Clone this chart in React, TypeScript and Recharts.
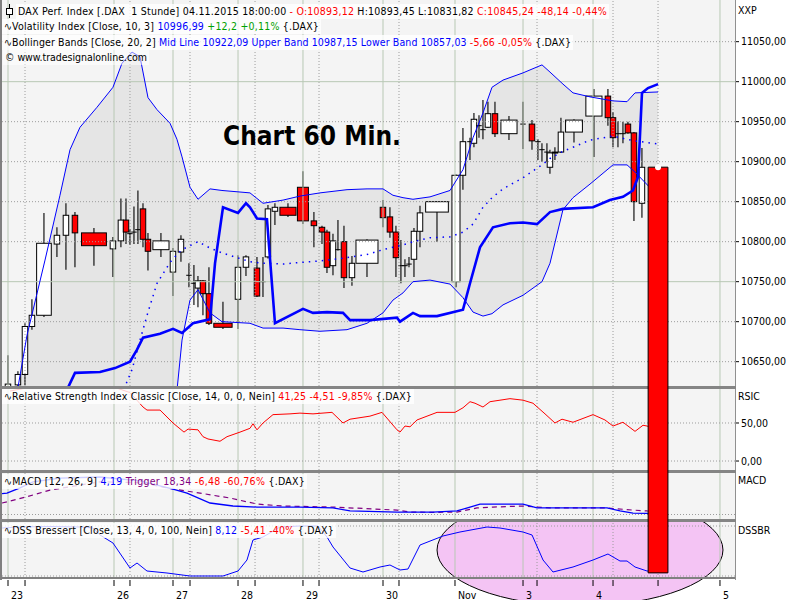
import React from 'react';
import { ComposedChart, Line, Area, Bar, XAxis, YAxis, ReferenceLine, ReferenceArea } from 'recharts';

const FONT = '"DejaVu Sans Condensed", "DejaVu Sans", sans-serif';

// time axis: 0..100 across the plot (hourly bars, gaps widen the candles)
const X_DOMAIN = [0, 100];
const DAY_TICKS = [0.82, 15.28, 23.33, 32.2, 41.06, 51.98, 61.8, 71.08, 80.63, 97.95];
const DAY_LABELS = ['23', '26', '27', '28', '29', '30', 'Nov', '3', '4', '5'];
const HOUR_TICKS = [3.14, 17.46, 25.65, 34.52, 43.25, 54.16, 72.99, 83.36, 89.5];

const PRICE_TICKS = [10650, 10700, 10750, 10800, 10850, 10900, 10950, 11000, 11050];
const PRICE_MAJOR = [10750, 11000];
const PRICE_DOMAIN = [10619.6, 11102.1];
const RSI_TICKS = [0, 50];
const RSI_DOMAIN = [-11.8, 94.7];
const MACD_DOMAIN = [-25.4, 234.5];
const DSS_DOMAIN = [-4, 108];

// hourly candles: t, open, high, low, close, optional span (for gaps)
const candles = [
  { t: 0.82, o: 10615, h: 10658, l: 10600, c: 10622 },
  { t: 2.18, o: 10621, h: 10638, l: 10600, c: 10634 },
  { t: 3.14, o: 10634, h: 10698, l: 10621, c: 10694 },
  { t: 4.09, o: 10694, h: 10728, l: 10690, c: 10708 },
  { t: 5.73, o: 10708, h: 10836, l: 10706, c: 10798, w: 2.0 },
  { t: 7.5, o: 10797, h: 10818, l: 10781, c: 10808 },
  { t: 8.73, o: 10808, h: 10848, l: 10765, c: 10833 },
  { t: 9.96, o: 10833, h: 10837, l: 10768, c: 10811 },
  { t: 12.55, o: 10811, h: 10817, l: 10770, c: 10795, w: 3.4 },
  { t: 15.14, o: 10791, h: 10806, l: 10756, c: 10801 },
  { t: 16.23, o: 10801, h: 10854, l: 10793, c: 10827 },
  { t: 16.92, o: 10827, h: 10854, l: 10797, c: 10812 },
  { t: 17.46, o: 10810, h: 10816, l: 10796, c: 10810 },
  { t: 18.01, o: 10812, h: 10844, l: 10797, c: 10812 },
  { t: 18.55, o: 10815, h: 10864, l: 10797, c: 10815 },
  { t: 19.24, o: 10841, h: 10848, l: 10793, c: 10803 },
  { t: 19.92, o: 10803, h: 10811, l: 10764, c: 10788 },
  { t: 21.69, o: 10790, h: 10811, l: 10781, c: 10801, w: 2.2 },
  { t: 23.33, o: 10762, h: 10792, l: 10732, c: 10788 },
  { t: 24.42, o: 10787, h: 10808, l: 10775, c: 10803 },
  { t: 25.51, o: 10758, h: 10773, l: 10743, c: 10758 },
  { t: 26.19, o: 10748, h: 10771, l: 10721, c: 10748 },
  { t: 26.74, o: 10742, h: 10757, l: 10718, c: 10751 },
  { t: 27.42, o: 10751, h: 10752, l: 10708, c: 10735 },
  { t: 28.24, o: 10735, h: 10768, l: 10696, c: 10698 },
  { t: 30.15, o: 10698, h: 10725, l: 10691, c: 10693, w: 2.5 },
  { t: 32.2, o: 10728, h: 10783, l: 10691, c: 10768 },
  { t: 33.29, o: 10768, h: 10783, l: 10757, c: 10781 },
  { t: 34.79, o: 10767, h: 10781, l: 10731, c: 10732 },
  { t: 35.61, o: 10750, h: 10781, l: 10731, c: 10750 },
  { t: 36.29, o: 10781, h: 10846, l: 10779, c: 10841 },
  { t: 37.24, o: 10838, h: 10848, l: 10821, c: 10843 },
  { t: 39.02, o: 10843, h: 10848, l: 10831, c: 10833, w: 2.2 },
  { t: 41.06, o: 10868, h: 10888, l: 10822, c: 10826, w: 1.5 },
  { t: 42.56, o: 10826, h: 10837, l: 10793, c: 10820 },
  { t: 43.66, o: 10818, h: 10820, l: 10797, c: 10812 },
  { t: 44.34, o: 10812, h: 10815, l: 10761, c: 10768 },
  { t: 45.16, o: 10770, h: 10810, l: 10758, c: 10801 },
  { t: 45.84, o: 10790, h: 10827, l: 10789, c: 10790 },
  { t: 46.66, o: 10800, h: 10820, l: 10742, c: 10755 },
  { t: 47.75, o: 10755, h: 10782, l: 10745, c: 10773 },
  { t: 49.8, o: 10773, h: 10803, l: 10756, c: 10802, w: 3.0 },
  { t: 51.98, o: 10843, h: 10852, l: 10818, c: 10830 },
  { t: 52.93, o: 10831, h: 10843, l: 10805, c: 10812 },
  { t: 53.75, o: 10812, h: 10820, l: 10756, c: 10780 },
  { t: 54.43, o: 10770, h: 10802, l: 10748, c: 10770 },
  { t: 54.98, o: 10770, h: 10778, l: 10756, c: 10770 },
  { t: 55.53, o: 10772, h: 10781, l: 10768, c: 10772 },
  { t: 56.21, o: 10778, h: 10817, l: 10756, c: 10813 },
  { t: 57.03, o: 10813, h: 10845, l: 10793, c: 10836 },
  { t: 59.35, o: 10837, h: 10851, l: 10800, c: 10850, w: 3.1 },
  { t: 61.94, o: 10750, h: 10884, l: 10743, c: 10883, w: 1.1 },
  { t: 62.89, o: 10883, h: 10942, l: 10865, c: 10925 },
  { t: 63.85, o: 10925, h: 10930, l: 10902, c: 10925 },
  { t: 64.39, o: 10923, h: 10961, l: 10918, c: 10953 },
  { t: 65.08, o: 10945, h: 10958, l: 10930, c: 10945 },
  { t: 65.62, o: 10940, h: 10977, l: 10928, c: 10940 },
  { t: 66.3, o: 10943, h: 10975, l: 10942, c: 10960 },
  { t: 67.26, o: 10960, h: 10975, l: 10931, c: 10935 },
  { t: 69.17, o: 10935, h: 10957, l: 10927, c: 10952, w: 2.2 },
  { t: 71.08, o: 10947, h: 10975, l: 10916, c: 10947 },
  { t: 72.31, o: 10947, h: 10952, l: 10915, c: 10926 },
  { t: 73.12, o: 10925, h: 10928, l: 10902, c: 10925 },
  { t: 73.67, o: 10915, h: 10923, l: 10900, c: 10915 },
  { t: 74.35, o: 10912, h: 10923, l: 10900, c: 10912 },
  { t: 74.76, o: 10893, h: 10915, l: 10885, c: 10911 },
  { t: 75.44, o: 10911, h: 10918, l: 10902, c: 10912 },
  { t: 76.26, o: 10912, h: 10955, l: 10911, c: 10937 },
  { t: 78.04, o: 10937, h: 10953, l: 10924, c: 10952, w: 2.3 },
  { t: 80.76, o: 10957, h: 10991, l: 10906, c: 10982, w: 2.2 },
  { t: 82.67, o: 10982, h: 10991, l: 10945, c: 10955 },
  { t: 83.36, o: 10955, h: 10962, l: 10918, c: 10930 },
  { t: 84.04, o: 10935, h: 10951, l: 10918, c: 10935 },
  { t: 84.72, o: 10935, h: 10950, l: 10923, c: 10935 },
  { t: 85.4, o: 10947, h: 10950, l: 10935, c: 10936 },
  { t: 86.22, o: 10936, h: 10937, l: 10826, c: 10850 },
  { t: 87.31, o: 10848, h: 10917, l: 10830, c: 10893 },
];

// last bar 04.11.2015 18:00 — the terminal drew its body down to the bottom of the window
const lastCandle = { t: 89.5, o: 10893.12, h: 10893.45, l: 10831.82, c: 10845.24, w: 2.7 };
const lastCandleDrawnLow = 10386;
const OVERLAY_DOMAIN = [10377.1, 11102.1];

// Bollinger Bands (20, 2)
const bandT = [1.09, 3.41, 5.87, 7.91, 9.28, 10.64, 12.96, 15.14, 16.37, 17.74, 18.83, 19.92, 21.15, 22.92, 23.87, 24.56, 25.65, 26.74, 28.38, 30.01, 33.83, 35.61, 38.34, 40.65, 43.38, 47.07, 49.8, 51.98, 53.34, 54.71, 56.07, 58.39, 61.12, 62.89, 64.26, 65.62, 66.85, 68.35, 71.08, 73.67, 74.76, 76.53, 77.9, 80.22, 83.36, 85.27, 86.36, 89.5];
const bandUpper = [10560, 10683, 10777, 10858, 10915, 10943, 10968, 10993, 11023, 11037, 11031, 10980, 10965, 10948, 10928, 10906, 10868, 10853, 10866, 10864, 10861, 10848, 10852, 10857, 10861, 10865, 10866, 10866, 10858, 10855, 10853, 10856, 10864, 10890, 10930, 10961, 10993, 11002, 11011, 11021, 11012, 10997, 10986, 10981, 10976, 10975, 10986, 10987.15];
const bandMid = [10450, 10470, 10490, 10510, 10525, 10540, 10565, 10595, 10610, 10640, 10677, 10712, 10748, 10774, 10784, 10790, 10795, 10800, 10792, 10786, 10775, 10773, 10772, 10774, 10776, 10780, 10784, 10790, 10793, 10796, 10800, 10805, 10806, 10812, 10822, 10843, 10855, 10866, 10880, 10896, 10904, 10913, 10918, 10927, 10932, 10928, 10926, 10922.09];
const bandLower = [10340, 10260, 10200, 10160, 10135, 10140, 10160, 10200, 10200, 10230, 10320, 10440, 10530, 10590, 10614, 10677, 10727, 10740, 10711, 10700, 10698, 10692, 10692, 10690, 10688, 10690, 10698, 10711, 10727, 10736, 10750, 10752, 10747, 10730, 10712, 10707, 10710, 10721, 10733, 10750, 10773, 10840, 10855, 10872, 10896, 10896, 10887, 10857.03];

// Volatility Index (10, 3)
const volT = [8.19, 8.87, 9.96, 13.37, 15.42, 17.46, 18.42, 19.24, 21.56, 23.33, 24.56, 26.06, 27.42, 28.38, 29.06, 30.15, 32.2, 33.29, 33.83, 34.79, 36.15, 37.24, 41.06, 42.43, 44.34, 46.52, 47.48, 50.2, 53.89, 54.3, 56.07, 57.03, 59.35, 62.89, 63.85, 65.21, 66.98, 69.3, 71.08, 72.99, 74.76, 76.53, 80.63, 82.94, 84.72, 86.08, 86.77, 87.31, 88.13, 89.5];
const volV = [10602, 10615, 10636, 10637, 10642, 10650, 10665, 10680, 10685, 10691, 10686, 10698, 10701, 10703, 10773, 10843, 10836, 10848, 10843, 10829, 10828, 10698, 10716, 10711, 10712, 10711, 10702, 10702, 10705, 10700, 10711, 10707, 10707, 10715, 10748, 10793, 10818, 10823, 10824, 10822, 10837, 10841, 10843, 10852, 10856, 10864, 10881, 10986, 10992, 10996.99];

// RSI classic (14)
const rsiT = [1.09, 3.82, 8.87, 14.73, 17.46, 19.24, 19.78, 21.56, 23.33, 24.83, 25.38, 26.74, 27.42, 28.1, 29.74, 30.7, 32.47, 33.83, 34.24, 34.79, 35.61, 36.97, 39.29, 40.65, 42.43, 45.02, 46.52, 47.48, 50.2, 51.84, 53.89, 54.3, 54.98, 55.66, 56.62, 59.35, 61.8, 62.89, 63.85, 64.53, 65.62, 66.58, 69.3, 71.08, 72.44, 74.08, 75.44, 76.4, 77.9, 80.63, 82.26, 83.36, 84.72, 86.36, 87.45, 88.0, 89.5];
const rsiV = [92, 97, 98, 99, 90, 71, 67, 67, 50, 38, 42, 41, 32, 29, 26, 32, 38, 43, 49, 41, 50, 61, 62, 63, 62, 64, 50, 55, 59, 64, 41, 38, 46, 45, 54, 64, 64, 70, 78, 76, 71, 78, 82, 80, 76, 62, 50, 55, 51, 61, 54, 46, 51, 39, 47, 46, 41.25];

// MACD (12, 26, 9)
const macdT = [0, 0.68, 2.46, 4.23, 7.91, 13.37, 18.83, 23.33, 25.24, 28.38, 31.51, 34.79, 40.65, 45.16, 47.48, 53.89, 58.8, 62.07, 63.85, 65.21, 71.08, 72.99, 76.13, 82.54, 84.31, 86.08, 88.0, 89.5];
const macdV = [118, 121, 150, 184, 205, 212, 190, 144, 121, 65, 48, 42, 42, 37, 20, 14, 14, 20, 42, 59, 59, 37, 37, 37, 20, 8, 6, 4.19];
const trigT = [0, 0.68, 4.23, 6.55, 13.37, 18.83, 23.33, 27.01, 31.11, 34.79, 38.34, 45.16, 53.89, 55.66, 58.8, 62.07, 64.8, 66.98, 71.08, 74.76, 82.54, 86.08, 88.0, 89.5];
const trigV = [65, 71, 110, 138, 185, 180, 144, 121, 93, 59, 48, 42, 25, 14, 12, 14, 37, 42, 48, 37, 37, 25, 20, 18.34];

// DSS Bressert (13, 4)
const dssT = [0, 2.46, 6.55, 10.64, 12.41, 13.37, 15.14, 17.46, 18.42, 19.78, 22.51, 25.65, 30.15, 32.2, 33.42, 34.24, 35.61, 37.93, 40.65, 43.11, 44.34, 45.16, 47.48, 49.25, 51.57, 52.93, 54.3, 55.39, 57.03, 60.16, 62.48, 66.17, 67.94, 71.08, 72.31, 73.81, 75.17, 77.9, 80.63, 82.67, 84.31, 85.27, 86.36, 88.0, 89.5];
const dssV = [96, 98, 99, 98, 96, 82, 66, 16, 26, 10, 6, 0, 0, 10, 32, 72, 78, 98, 100, 100, 78, 58, 16, 8, 18, 22, 12, 14, 62, 80, 88, 98, 96, 88, 82, 32, 8, 18, 32, 44, 30, 30, 18, 10, 8.12];

// hand-drawn highlight in the DSS panel
const dssHighlight = { x1: 59.35, x2: 98.36, y1: -60, y2: 164 };

const W = 800;
const AXIS_W = 65;
const PLOT_L = 2;
const PLOT_R = W - AXIS_W;
const PX_PER_T = (PLOT_R - PLOT_L) / (X_DOMAIN[1] - X_DOMAIN[0]);

const candleRows = candles;
const bandRows = bandT.map((t, i) => ({ t, up: bandUpper[i], mid: bandMid[i], lo: bandLower[i] }));
const volRows = volT.map((t, i) => ({ t, v: volV[i] }));
const rsiRows = rsiT.map((t, i) => ({ t, v: rsiV[i] }));
const macdRows = macdT.map((t, i) => ({ t, v: macdV[i] }));
const trigRows = trigT.map((t, i) => ({ t, v: trigV[i] }));
const dssRows = dssT.map((t, i) => ({ t, v: dssV[i] }));

const fmt = (v: number) => v.toFixed(2).replace('.', ',');

const GRID_SOLID = '#b8c8b4';
const GRID_DOT = '#9c9c9c';

const verticalGrid = (p: string) => [
  ...DAY_TICKS.map((v) => <ReferenceLine key={`${p}d${v}`} x={v} stroke={GRID_SOLID} strokeWidth={1} />),
  ...HOUR_TICKS.map((v) => <ReferenceLine key={`${p}h${v}`} x={v} stroke={GRID_DOT} strokeDasharray="1 2" />),
];

const CandleShape = (props: any) => {
  const { x, y, width, height, payload } = props;
  if (!payload || height == null) return null;
  const { o, h, l, c, w } = payload;
  const top = height >= 0 ? y : y + height;
  const hh = Math.abs(height);
  const k = hh / (h - l);
  const cx = x + width / 2;
  const yO = top + (h - o) * k;
  const yC = top + (h - c) * k;
  const bw = (w || 0.75) * PX_PER_T;
  const up = c >= o;
  return (
    <g>
      <line x1={cx} x2={cx} y1={top} y2={top + hh} stroke="#000" strokeWidth={1.1} />
      {o === c ? (
        <line x1={cx - bw / 2} x2={cx + bw / 2} y1={yO} y2={yO} stroke="#000" strokeWidth={1} />
      ) : (
        <rect x={cx - bw / 2} y={Math.min(yO, yC)} width={bw} height={Math.max(Math.abs(yO - yC), 1)} fill={up ? '#ffffff' : '#ff0000'} stroke="#000" strokeWidth={1} />
      )}
    </g>
  );
};

const EllipseShape = (props: any) => {
  const { x, y, width, height } = props;
  return <ellipse cx={x + width / 2} cy={y + height / 2} rx={width / 2} ry={height / 2} fill="#f4c4f4" stroke="#000" strokeWidth={1} />;
};

const XTick = (props: any) => {
  const { x, y, payload } = props;
  const i = DAY_TICKS.indexOf(payload.value);
  return (
    <g>
      <line x1={x} x2={x} y1={y + 2} y2={y + 8} stroke="#000" />
      {i >= 0 && (
        <text x={x + 3} y={y + 21} fontSize={10.5} fontFamily={FONT} fill="#000">{DAY_LABELS[i]}</text>
      )}
    </g>
  );
};

// fit label text to the width it has in the terminal by adjusting letter spacing
let measureCtx: CanvasRenderingContext2D | null = null;
const measure = (text: string, font: string) => {
  if (!measureCtx) measureCtx = document.createElement('canvas').getContext('2d');
  if (!measureCtx) return 0;
  measureCtx.font = font;
  return measureCtx.measureText(text).width;
};

type Part = [string, string];
const LABEL_FONT = `10.5px ${FONT}`;
const Label = ({ top, left, parts, fit, bg = 'rgba(255,255,255,0.8)' }: { top: number; left: number; parts: Part[]; fit?: number; bg?: string }) => {
  const full = parts.map((p) => p[0]).join('');
  let spacing = 0;
  if (fit) {
    const m = measure(full, LABEL_FONT);
    if (m > 0) spacing = (fit - m) / full.length;
  }
  return (
    <div style={{ position: 'absolute', top, left, font: LABEL_FONT, lineHeight: '15px', background: bg, whiteSpace: 'pre', padding: '0 2px', letterSpacing: spacing }}>
      {parts.map(([text, color], i) => (
        <span key={i} style={{ color }}>{text}</span>
      ))}
    </div>
  );
};

const BLK = '#000';
const RED = '#ff0000';
const BLU = '#0000ff';
const GRN = '#00a000';
const PUR = '#800080';

const abs = (top: number, height: number): React.CSSProperties => ({ position: 'absolute', left: 0, top, width: W, height });

const App = () => {
  const xAxis = <XAxis type="number" dataKey="t" domain={X_DOMAIN} hide allowDataOverflow />;
  return (
    <div style={{ position: 'relative', width: W, height: 600, background: '#fff', overflow: 'hidden' }}>
      <style>{'body{margin:0}'}</style>
      <div style={{ position: 'absolute', left: PLOT_L, top: 0, width: PLOT_R - PLOT_L, height: 578, background: '#f4f4f4' }} />

      {/* price panel */}
      <div style={abs(0, 386)}>
        <ComposedChart width={W} height={386} data={candleRows} margin={{ top: 0, right: 0, bottom: 0, left: PLOT_L }}>
          {xAxis}
          <YAxis orientation="right" width={AXIS_W} domain={PRICE_DOMAIN} allowDataOverflow ticks={PRICE_TICKS} interval={0}
            tickFormatter={fmt} tick={{ fontSize: 10.5, fill: '#000', fontFamily: FONT }} tickSize={4} tickMargin={2}
            axisLine={false} tickLine={{ stroke: '#000' }} />
          {verticalGrid('p')}
          {PRICE_TICKS.map((v) => (
            <ReferenceLine key={`py${v}`} y={v} stroke={PRICE_MAJOR.includes(v) ? GRID_SOLID : GRID_DOT}
              strokeDasharray={PRICE_MAJOR.includes(v) ? undefined : '1 2'} />
          ))}
          <Area data={bandRows} dataKey={(d: any) => [d.lo, d.up]} type="linear" fill="#000" fillOpacity={0.06} stroke="none" isAnimationActive={false} />
          <Line data={bandRows} dataKey="up" type="linear" stroke={BLU} strokeWidth={1} dot={false} isAnimationActive={false} />
          <Line data={bandRows} dataKey="lo" type="linear" stroke={BLU} strokeWidth={1} dot={false} isAnimationActive={false} />
          <Line data={bandRows} dataKey="mid" type="linear" stroke={BLU} strokeWidth={1.5} strokeDasharray="1.5 5" dot={false} isAnimationActive={false} />
          <Bar dataKey={(d: any) => [d.l, d.h]} shape={<CandleShape />} barSize={4} isAnimationActive={false} />
          <Line data={volRows} dataKey="v" type="linear" stroke={BLU} strokeWidth={2.6} dot={false} isAnimationActive={false} />
        </ComposedChart>
      </div>

      {/* RSI panel */}
      <div style={abs(389, 81)}>
        <ComposedChart width={W} height={81} data={rsiRows} margin={{ top: 0, right: 0, bottom: 0, left: PLOT_L }}>
          {xAxis}
          <YAxis orientation="right" width={AXIS_W} domain={RSI_DOMAIN} allowDataOverflow ticks={RSI_TICKS} interval={0}
            tickFormatter={fmt} tick={{ fontSize: 10.5, fill: '#000', fontFamily: FONT }} tickSize={4} tickMargin={2}
            axisLine={false} tickLine={{ stroke: '#000' }} />
          {verticalGrid('r')}
          {RSI_TICKS.map((v) => <ReferenceLine key={`ry${v}`} y={v} stroke={GRID_DOT} strokeDasharray="1 2" />)}
          <Line dataKey="v" type="linear" stroke={RED} strokeWidth={1} dot={false} isAnimationActive={false} />
        </ComposedChart>
      </div>

      {/* MACD panel */}
      <div style={abs(473, 46)}>
        <ComposedChart width={W} height={46} data={macdRows} margin={{ top: 0, right: AXIS_W, bottom: 0, left: PLOT_L }}>
          {xAxis}
          <YAxis hide domain={MACD_DOMAIN} allowDataOverflow />
          {verticalGrid('m')}
          <ReferenceLine y={0} stroke={GRID_DOT} strokeDasharray="1 2" />
          <Line data={trigRows} dataKey="v" type="linear" stroke={PUR} strokeWidth={1.2} strokeDasharray="5 4" dot={false} isAnimationActive={false} />
          <Line data={macdRows} dataKey="v" type="linear" stroke={BLU} strokeWidth={1.3} dot={false} isAnimationActive={false} />
        </ComposedChart>
      </div>

      {/* DSS panel with time axis */}
      <div style={abs(522, 78)}>
        <ComposedChart width={W} height={78} data={dssRows} margin={{ top: 0, right: AXIS_W, bottom: 0, left: PLOT_L }}>
          <XAxis type="number" dataKey="t" domain={X_DOMAIN} allowDataOverflow height={22}
            ticks={[...DAY_TICKS, ...HOUR_TICKS].sort((a, b) => a - b)} interval={0} tickSize={0} tickMargin={0}
            tick={<XTick />} tickLine={false} axisLine={{ stroke: '#808080', strokeWidth: 2 }} />
          <YAxis hide domain={DSS_DOMAIN} allowDataOverflow />
          <ReferenceArea x1={dssHighlight.x1} x2={dssHighlight.x2} y1={dssHighlight.y1} y2={dssHighlight.y2}
            ifOverflow="hidden" shape={<EllipseShape />} />
          {verticalGrid('s')}
          <ReferenceLine y={0} stroke={GRID_DOT} strokeDasharray="1 2" />
          <ReferenceLine y={100} stroke={GRID_DOT} strokeDasharray="1 2" />
          <Line dataKey="v" type="linear" stroke={BLU} strokeWidth={1} dot={false} isAnimationActive={false} />
        </ComposedChart>
      </div>

      {/* frame lines */}
      <div style={{ position: 'absolute', left: 0, top: 0, width: 2, height: 580, background: '#808080' }} />
      <div style={{ position: 'absolute', left: PLOT_R, top: 0, width: 1, height: 580, background: '#909090' }} />
      {[386, 470, 519].map((y) => (
        <div key={y} style={{ position: 'absolute', left: 0, top: y, width: PLOT_R + 1, height: 3, background: '#858585' }} />
      ))}

      {/* last candle overlay */}
      <div style={abs(0, 580)}>
        <ComposedChart width={W} height={580} data={[lastCandle]} margin={{ top: 0, right: AXIS_W, bottom: 0, left: PLOT_L }}>
          {xAxis}
          <YAxis hide domain={OVERLAY_DOMAIN} allowDataOverflow />
          <Line dataKey="o" stroke="none" dot={false} isAnimationActive={false} />
          <ReferenceArea x1={lastCandle.t - lastCandle.w / 2} x2={lastCandle.t + lastCandle.w / 2}
            y1={lastCandleDrawnLow} y2={lastCandle.o} fill="#ff0000" fillOpacity={1} stroke="#000" strokeWidth={1} />
        </ComposedChart>
      </div>

      {/* texts */}
      <svg width={W} height={600} style={{ position: 'absolute', left: 0, top: 0, pointerEvents: 'none' }}>
        <text x={223} y={145} fontSize={26} fontWeight="bold" fontFamily={FONT} fill="#000">Chart 60 Min.</text>
        <g stroke="#000" fill="none">
          <line x1={9.5} x2={9.5} y1={4} y2={18} />
          <rect x={6.5} y={8.5} width={6} height={6} fill="#fff" />
        </g>
      </svg>
      <Label top={3.5} left={16} fit={589} parts={[['DAX Perf. Index [.DAX  1 Stunde] 04.11.2015 18:00:00 ', BLK], ['- O:10893,12', RED], [' H:10893,45 L:10831,82 ', BLK], ['C:10845,24 -48,14 -0,44%', RED]]} />
      <Label top={18.5} left={2} fit={315} parts={[['∿Volatility Index [Close, 10, 3] ', BLK], ['10996,99', BLU], [' +12,2 +0,11%', GRN], [' {.DAX}', BLK]]} />
      <Label top={34.5} left={2} fit={567} parts={[['∿Bollinger Bands [Close, 20, 2] ', BLK], ['Mid Line 10922,09 Upper Band 10987,15 Lower Band 10857,03', BLU], [' -5,66 -0,05%', RED], [' {.DAX}', BLK]]} />
      <Label top={49.5} left={3} fit={142} bg="rgba(255,255,255,0.5)" parts={[['© www.tradesignalonline.com', BLK]]} />
      <Label top={388.5} left={2} fit={408} parts={[['∿Relative Strength Index Classic [Close, 14, 0, 0, Nein] ', BLK], ['41,25 -4,51 -9,85%', RED], [' {.DAX}', BLK]]} />
      <Label top={473.5} left={2} fit={301} parts={[['∿MACD [12, 26, 9] ', BLK], ['4,19', BLU], [' Trigger 18,34', PUR], [' -6,48 -60,76%', RED], [' {.DAX}', BLK]]} />
      <Label top={523} left={2} fit={330} parts={[['∿DSS Bressert [Close, 13, 4, 0, 100, Nein] ', BLK], ['8,12', BLU], [' -5,41 -40%', RED], [' {.DAX}', BLK]]} />
      <Label top={2.5} left={736} bg="transparent" parts={[['XXP', BLK]]} />
      <Label top={388.5} left={736} bg="transparent" parts={[['RSIC', BLK]]} />
      <Label top={472.5} left={736} bg="transparent" parts={[['MACD', BLK]]} />
      <Label top={522.5} left={736} bg="transparent" parts={[['DSSBR', BLK]]} />
    </div>
  );
};

export default App;
